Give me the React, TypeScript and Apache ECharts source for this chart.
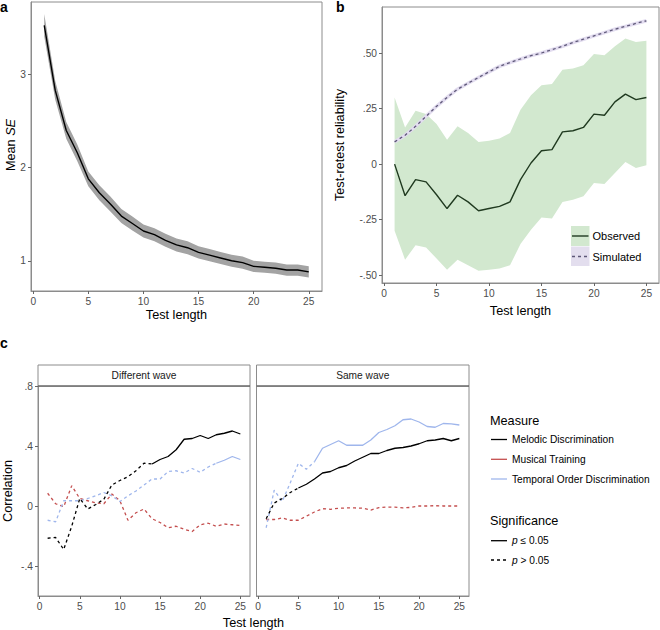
import React, { useEffect, useRef } from 'react';
import * as echarts from 'echarts';

// ---------- data ----------
const testLength = [1, 2, 3, 4, 5, 6, 7, 8, 9, 10, 11, 12, 13, 14, 15, 16, 17, 18, 19, 20, 21, 22, 23, 24, 25];

// panel a
const meanSE = [3.53, 2.83, 2.40, 2.16, 1.88, 1.73, 1.61, 1.48, 1.40, 1.32, 1.28, 1.22, 1.17, 1.14, 1.09, 1.06, 1.03, 1.00, 0.98, 0.94, 0.93, 0.92, 0.90, 0.90, 0.88];
const seUpper = [3.65, 2.93, 2.49, 2.25, 1.96, 1.81, 1.69, 1.555, 1.475, 1.39, 1.35, 1.29, 1.24, 1.21, 1.155, 1.125, 1.095, 1.065, 1.045, 1.0, 0.99, 0.98, 0.96, 0.96, 0.94];
const seLower = [3.41, 2.73, 2.31, 2.07, 1.80, 1.65, 1.53, 1.405, 1.325, 1.25, 1.21, 1.15, 1.10, 1.07, 1.025, 0.995, 0.965, 0.935, 0.915, 0.88, 0.87, 0.86, 0.84, 0.84, 0.82];

// panel b
const observed = [0, -0.142, -0.07, -0.08, -0.138, -0.2, -0.14, -0.17, -0.21, -0.2, -0.19, -0.17, -0.07, 0.005, 0.06, 0.065, 0.145, 0.15, 0.165, 0.225, 0.22, 0.28, 0.315, 0.29, 0.3];
const obsUpper = [0.3, 0.165, 0.24, 0.225, 0.18, 0.11, 0.17, 0.14, 0.1, 0.105, 0.115, 0.14, 0.245, 0.31, 0.355, 0.36, 0.425, 0.43, 0.445, 0.495, 0.49, 0.53, 0.565, 0.55, 0.555];
const obsLower = [-0.3, -0.43, -0.365, -0.375, -0.425, -0.475, -0.43, -0.455, -0.48, -0.475, -0.47, -0.455, -0.36, -0.295, -0.24, -0.245, -0.17, -0.16, -0.145, -0.085, -0.09, -0.04, 0.01, -0.018, -0.005];
const simulated = [0.1, 0.13, 0.17, 0.215, 0.26, 0.3, 0.337, 0.364, 0.39, 0.415, 0.44, 0.457, 0.473, 0.488, 0.5, 0.515, 0.53, 0.547, 0.562, 0.577, 0.592, 0.607, 0.62, 0.633, 0.645];

// panel c – different wave
const diffMD = [-0.215, -0.21, -0.29, -0.135, 0.05, -0.02, 0.01, 0.045, 0.14, 0.17, 0.195, 0.235, 0.285, 0.28, 0.31, 0.33, 0.375, 0.445, 0.45, 0.47, 0.45, 0.475, 0.485, 0.5, 0.48];
const diffMT = [0.085, 0.015, -0.005, 0.135, 0.05, 0.035, 0.02, 0.015, 0.08, 0.035, -0.095, -0.045, -0.02, -0.085, -0.11, -0.145, -0.135, -0.155, -0.17, -0.125, -0.115, -0.135, -0.12, -0.125, -0.13];
const diffTOD = [-0.095, -0.105, 0.035, 0.035, 0.035, 0.05, 0.068, 0.09, 0.068, 0.03, 0.068, 0.1, 0.14, 0.18, 0.18, 0.23, 0.235, 0.22, 0.25, 0.225, 0.26, 0.285, 0.305, 0.33, 0.31];
// panel c – same wave
const sameMD = [-0.085, 0.02, 0.05, 0.09, 0.12, 0.145, 0.18, 0.22, 0.23, 0.255, 0.27, 0.3, 0.325, 0.35, 0.35, 0.37, 0.385, 0.39, 0.4, 0.415, 0.435, 0.44, 0.45, 0.435, 0.45];
const sameMT = [-0.09, -0.09, -0.08, -0.095, -0.095, -0.068, -0.04, -0.018, -0.022, -0.015, -0.013, -0.013, -0.015, -0.027, -0.011, -0.007, -0.007, -0.013, -0.009, 0, 0, 0.002, 0, 0, 0];
const sameTOD = [-0.145, 0.105, 0.03, 0.155, 0.285, 0.245, 0.295, 0.385, 0.41, 0.435, 0.405, 0.405, 0.405, 0.44, 0.49, 0.51, 0.535, 0.575, 0.58, 0.56, 0.53, 0.525, 0.55, 0.548, 0.54];

// test length from which the correlation is significant (null = never)
const diffMDSigFrom = 14;
const diffMTSigFrom: number | null = null;
const diffTODSigFrom = 22;
const sameMDSigFrom = 5;
const sameMTSigFrom: number | null = null;
const sameTODSigFrom = 7;

// ticks
const xTicks = [0, 5, 10, 15, 20, 25];
const yTicksA = [1, 2, 3];
const yLabelsA = ['1', '2', '3'];
const yTicksB = [-0.5, -0.25, 0, 0.25, 0.5];
const yLabelsB = ['-.50', '-.25', '0', '.25', '.50'];
const yTicksC = [-0.4, 0, 0.4, 0.8];
const yLabelsC = ['-.4', '0', '.4', '.8'];

const measureNames = ['Melodic Discrimination', 'Musical Training', 'Temporal Order Discrimination'];
const facetNames = ['Different wave', 'Same wave'];

// ---------- style ----------
const FONT = "'Liberation Sans', Arial, Helvetica, sans-serif";
const BORDER = '#8c8c8c';
const TICK_TXT = '#4d4d4d';
const C_MD = '#000000';
const C_MT = '#c44e4e';
const C_TOD = '#9fb6ec';
const C_OBS = '#203a20';
const C_RIB_B = '#d2e8cf';
const C_SIM = '#5e5878';
const C_SIM_BAND = '#e2dcef';
const DASH = [3, 3];

const labelFmt = (ticks: number[], labels: string[]) => (v: number) => {
  const i = ticks.findIndex((t) => Math.abs(t - v) < 1e-9);
  return i >= 0 ? labels[i] : '';
};

function xAxis(gridIndex: number) {
  return {
    type: 'value', gridIndex, min: -0.2, max: 26.2,
    axisLine: { show: true, onZero: false, lineStyle: { color: BORDER, width: 1 } },
    axisTick: { show: true, length: 3, lineStyle: { color: '#666' }, customValues: xTicks },
    axisLabel: { show: true, customValues: xTicks, color: TICK_TXT, fontSize: 10.2, fontFamily: FONT, margin: 5 },
    splitLine: { show: false },
  };
}
function yAxis(gridIndex: number, min: number, max: number, ticks: number[] | null, labels: string[] | null) {
  return {
    type: 'value', gridIndex, min, max,
    axisLine: { show: true, onZero: false, lineStyle: { color: BORDER, width: 1 } },
    axisTick: ticks ? { show: true, length: 3, lineStyle: { color: '#666' }, customValues: ticks } : { show: false },
    axisLabel: ticks && labels
      ? { show: true, customValues: ticks, formatter: labelFmt(ticks, labels), color: TICK_TXT, fontSize: 10.2, fontFamily: FONT, margin: 5 }
      : { show: false },
    splitLine: { show: false },
  };
}

function ribbon(idx: number, lower: number[], upper: number[], color: string) {
  return {
    type: 'custom', xAxisIndex: idx, yAxisIndex: idx, silent: true, clip: true, z: 1,
    data: testLength.map((x, i) => [x, lower[i], upper[i]]),
    encode: { x: 0, y: [1, 2] },
    renderItem: (params: any, api: any) => {
      if (params.dataIndex !== 0) return null;
      const top = testLength.map((x, i) => api.coord([x, upper[i]]));
      const bot = testLength.map((x, i) => api.coord([x, lower[i]])).reverse();
      return { type: 'polygon', shape: { points: top.concat(bot) }, style: { fill: color } };
    },
  };
}

function line(idx: number, xs: number[], ys: number[], color: string, width: number, dashed: boolean, z = 3) {
  return {
    type: 'line', xAxisIndex: idx, yAxisIndex: idx, showSymbol: false, silent: true, z,
    data: xs.map((x, i) => [x, ys[i]]),
    lineStyle: { color, width, type: dashed ? DASH : 'solid', cap: 'butt' },
  };
}

function sigLines(idx: number, ys: number[], color: string, sigFrom: number | null) {
  if (sigFrom === null) return [line(idx, testLength, ys, color, 1.3, true)];
  const k = testLength.indexOf(sigFrom);
  return [
    line(idx, testLength.slice(0, k + 1), ys.slice(0, k + 1), color, 1.3, true),
    line(idx, testLength.slice(k), ys.slice(k), color, 1.3, false),
  ];
}

function txt(x: number, y: number, text: string, size: number, opts: any = {}) {
  const { align = 'left', vAlign = 'middle', color = '#000', weight = 'normal', rotation = 0, rich } = opts;
  return {
    type: 'text', x, y, rotation, silent: true, z: 10,
    style: {
      text, fontSize: size, fontFamily: FONT, fontWeight: weight, fill: color,
      align, verticalAlign: vAlign, textAlign: align, textVerticalAlign: vAlign, rich,
    },
  };
}

function hline(x1: number, x2: number, y: number, color: string, width: number, dashed = false) {
  return {
    type: 'line', silent: true, z: 10,
    shape: { x1, y1: y, x2, y2: y },
    style: { stroke: color, lineWidth: width, lineDash: dashed ? DASH : null },
  };
}

function buildOption() {
  const grids = [
    { left: 31, top: 2, width: 291, height: 289 },
    { left: 382, top: 7, width: 277, height: 276 },
    { left: 38, top: 386, width: 212, height: 210 },
    { left: 256.5, top: 386, width: 212.5, height: 210 },
  ].map((g) => ({ ...g, show: true, borderColor: BORDER, borderWidth: 1, backgroundColor: 'transparent', containLabel: false }));

  const series: any[] = [
    ribbon(0, seLower, seUpper, '#a3a3a3'),
    line(0, testLength, meanSE, '#000', 1.4, false),

    ribbon(1, obsLower, obsUpper, C_RIB_B),
    line(1, testLength, simulated, C_SIM_BAND, 3.5, false, 2),
    line(1, testLength, simulated, C_SIM, 1.3, true),
    line(1, testLength, observed, C_OBS, 1.4, false),

    ...sigLines(2, diffMT, C_MT, diffMTSigFrom),
    ...sigLines(2, diffTOD, C_TOD, diffTODSigFrom),
    ...sigLines(2, diffMD, C_MD, diffMDSigFrom),
    ...sigLines(3, sameMT, C_MT, sameMTSigFrom),
    ...sigLines(3, sameTOD, C_TOD, sameTODSigFrom),
    ...sigLines(3, sameMD, C_MD, sameMDSigFrom),
  ];

  const italicRich = { i: { fontStyle: 'italic', fontFamily: FONT } };

  const graphic: any[] = [
    // panel letters
    txt(0, 0, 'a', 14, { vAlign: 'top', weight: 'bold' }),
    txt(336, 0, 'b', 14, { vAlign: 'top', weight: 'bold' }),
    txt(0, 336, 'c', 14, { vAlign: 'top', weight: 'bold' }),

    // axis titles
    txt(176.5, 314.5, 'Test length', 12.7, { align: 'center' }),
    txt(520.5, 310.5, 'Test length', 12.7, { align: 'center' }),
    txt(253.5, 623, 'Test length', 12.7, { align: 'center' }),
    {
      type: 'text', x: 11, y: 145, rotation: Math.PI / 2, silent: true, z: 10,
      style: {
        text: 'Mean {i|SE}', fontSize: 12.7, fontFamily: FONT, fill: '#000',
        align: 'center', verticalAlign: 'middle', textAlign: 'center', textVerticalAlign: 'middle',
        rich: { i: { fontStyle: 'italic', fontSize: 12.7, fontFamily: FONT, fill: '#000' } },
      },
    },
    txt(340, 145, 'Test-retest reliability', 12.7, { align: 'center', rotation: Math.PI / 2 }),
    txt(7.5, 491, 'Correlation', 12.7, { align: 'center', rotation: Math.PI / 2 }),

    // facet strips
    { type: 'rect', silent: true, z: 9, shape: { x: 38, y: 365, width: 212, height: 21 }, style: { fill: '#fff', stroke: BORDER, lineWidth: 1 } },
    { type: 'rect', silent: true, z: 9, shape: { x: 256.5, y: 365, width: 212.5, height: 21 }, style: { fill: '#fff', stroke: BORDER, lineWidth: 1 } },
    hline(38, 250, 386, '#555', 1.2),
    hline(256.5, 469, 386, '#555', 1.2),
    txt(144, 375.5, facetNames[0], 10.2, { align: 'center', color: '#1a1a1a' }),
    txt(362.75, 375.5, facetNames[1], 10.2, { align: 'center', color: '#1a1a1a' }),

    // legend panel b
    { type: 'rect', silent: true, z: 9, shape: { x: 571, y: 226, width: 18.5, height: 20 }, style: { fill: C_RIB_B } },
    { type: 'rect', silent: true, z: 9, shape: { x: 571, y: 246.5, width: 18.5, height: 19.5 }, style: { fill: '#e3deee' } },
    hline(572, 588.5, 236, C_OBS, 1.4),
    hline(572, 588.5, 256.5, C_SIM, 1.4, true),
    txt(592.5, 236, 'Observed', 11, {}),
    txt(592.5, 256.5, 'Simulated', 11, {}),

    // legend panel c
    txt(490, 421, 'Measure', 12.7, {}),
    hline(491, 507, 439.5, C_MD, 1.3),
    hline(491, 507, 459.3, C_MT, 1.3),
    hline(491, 507, 479, C_TOD, 1.3),
    txt(512, 439.5, measureNames[0], 10.2, {}),
    txt(512, 459.3, measureNames[1], 10.2, {}),
    txt(512, 479, measureNames[2], 10.2, {}),
    txt(490, 521, 'Significance', 12.7, {}),
    hline(491, 507, 540.7, '#000', 1.3),
    hline(491, 507, 560, '#000', 1.3, true),
    txt(512, 540.7, '{i|p} ≤ 0.05', 10.2, { rich: { i: { ...italicRich.i, fontSize: 10.2 } } }),
    txt(512, 560, '{i|p} > 0.05', 10.2, { rich: { i: { ...italicRich.i, fontSize: 10.2 } } }),
  ];

  return {
    animation: false,
    backgroundColor: '#ffffff',
    textStyle: { fontFamily: FONT },
    grid: grids,
    xAxis: [xAxis(0), xAxis(1), xAxis(2), xAxis(3)],
    yAxis: [
      yAxis(0, 0.675, 3.78, yTicksA, yLabelsA),
      yAxis(1, -0.535, 0.707, yTicksB, yLabelsB),
      yAxis(2, -0.6, 0.8, yTicksC, yLabelsC),
      yAxis(3, -0.6, 0.8, null, null),
    ],
    series,
    graphic,
  };
}

export default function App() {
  const ref = useRef<HTMLDivElement>(null);
  useEffect(() => {
    if (!ref.current) return;
    const chart = echarts.init(ref.current, null, { renderer: 'svg' });
    chart.setOption(buildOption() as any);
    return () => chart.dispose();
  }, []);
  return <div ref={ref} style={{ position: 'absolute', left: 0, top: 0, width: 660, height: 630 }} />;
}
